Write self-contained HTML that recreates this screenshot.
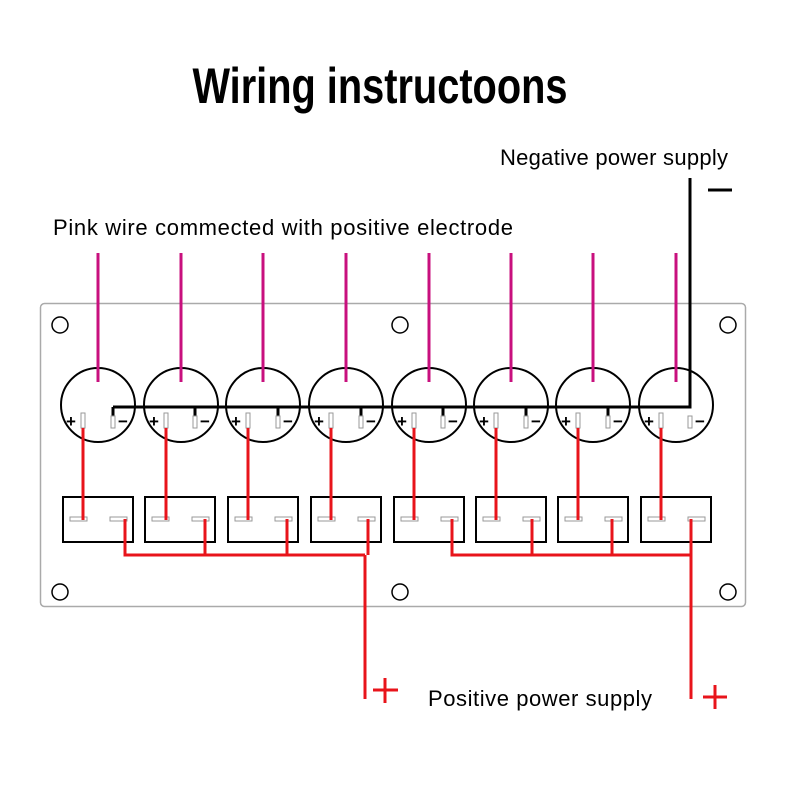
<!DOCTYPE html><html><head><style>body{margin:0;background:#fff}</style></head><body>
<svg width="800" height="800" viewBox="0 0 800 800" xmlns="http://www.w3.org/2000/svg" font-family="Liberation Sans Narrow, Liberation Sans, sans-serif">
<rect width="800" height="800" fill="#fff"/>
<text x="380" y="103" font-size="50" font-weight="bold" text-anchor="middle" textLength="375" lengthAdjust="spacingAndGlyphs">Wiring instructoons</text>
<text x="500" y="165" font-size="22" textLength="228" lengthAdjust="spacing">Negative power supply</text>
<text x="53" y="235" font-size="22" textLength="460" lengthAdjust="spacing">Pink wire commected with positive electrode</text>
<text x="428" y="706" font-size="22" textLength="224" lengthAdjust="spacing">Positive power supply</text>
<rect x="40.5" y="303.5" width="705" height="303" rx="4" fill="none" stroke="#aaa" stroke-width="1.5"/>
<g fill="none" stroke="#000" stroke-width="1.5">
<circle cx="60" cy="325" r="8"/><circle cx="400" cy="325" r="8"/><circle cx="728" cy="325" r="8"/>
<circle cx="60" cy="592" r="8"/><circle cx="400" cy="592" r="8"/><circle cx="728" cy="592" r="8"/>
</g>
<g fill="none" stroke-width="2">
<circle cx="98" cy="405" r="37" stroke="#000"/><circle cx="181" cy="405" r="37" stroke="#000"/><circle cx="263" cy="405" r="37" stroke="#000"/><circle cx="346" cy="405" r="37" stroke="#000"/><circle cx="429" cy="405" r="37" stroke="#000"/><circle cx="511" cy="405" r="37" stroke="#000"/><circle cx="593" cy="405" r="37" stroke="#000"/><circle cx="676" cy="405" r="37" stroke="#000"/>
<rect x="63" y="497" width="70" height="45" stroke="#000"/><rect x="145" y="497" width="70" height="45" stroke="#000"/><rect x="228" y="497" width="70" height="45" stroke="#000"/><rect x="311" y="497" width="70" height="45" stroke="#000"/><rect x="394" y="497" width="70" height="45" stroke="#000"/><rect x="476" y="497" width="70" height="45" stroke="#000"/><rect x="558" y="497" width="70" height="45" stroke="#000"/><rect x="641" y="497" width="70" height="45" stroke="#000"/>
</g>
<g stroke="#c8107e" stroke-width="3">
<line x1="98" y1="253" x2="98" y2="382"/><line x1="181" y1="253" x2="181" y2="382"/><line x1="263" y1="253" x2="263" y2="382"/><line x1="346" y1="253" x2="346" y2="382"/><line x1="429" y1="253" x2="429" y2="382"/><line x1="511" y1="253" x2="511" y2="382"/><line x1="593" y1="253" x2="593" y2="382"/><line x1="676" y1="253" x2="676" y2="382"/>
</g>
<g stroke="#000" stroke-width="3" fill="none">
<polyline points="690,178 690,407 113,407"/>
<line x1="113" y1="407" x2="113" y2="416"/><line x1="195" y1="407" x2="195" y2="416"/><line x1="278" y1="407" x2="278" y2="416"/><line x1="361" y1="407" x2="361" y2="416"/><line x1="443" y1="407" x2="443" y2="416"/><line x1="526" y1="407" x2="526" y2="416"/><line x1="608" y1="407" x2="608" y2="416"/>
<line x1="708" y1="190" x2="732" y2="190"/>
</g>
<g font-family="Liberation Sans, sans-serif" font-size="17" font-weight="bold">
<text x="66" y="427">+</text><text x="149" y="427">+</text><text x="231" y="427">+</text><text x="314" y="427">+</text><text x="397" y="427">+</text><text x="479" y="427">+</text><text x="561" y="427">+</text><text x="644" y="427">+</text>
<text x="118" y="427">−</text><text x="200" y="427">−</text><text x="283" y="427">−</text><text x="366" y="427">−</text><text x="448" y="427">−</text><text x="531" y="427">−</text><text x="613" y="427">−</text><text x="695" y="427">−</text>
</g>
<g fill="#fff" stroke="#999" stroke-width="1">
<rect x="81" y="413" width="4" height="15"/><rect x="164" y="413" width="4" height="15"/><rect x="246" y="413" width="4" height="15"/><rect x="329" y="413" width="4" height="15"/><rect x="412" y="413" width="4" height="15"/><rect x="494" y="413" width="4" height="15"/><rect x="576" y="413" width="4" height="15"/><rect x="659" y="413" width="4" height="15"/>
<rect x="111" y="416" width="4" height="12"/><rect x="193" y="416" width="4" height="12"/><rect x="276" y="416" width="4" height="12"/><rect x="359" y="416" width="4" height="12"/><rect x="441" y="416" width="4" height="12"/><rect x="524" y="416" width="4" height="12"/><rect x="606" y="416" width="4" height="12"/><rect x="688" y="416" width="4" height="12"/>
<rect x="70" y="517" width="17" height="4"/><rect x="110" y="517" width="17" height="4"/>
<rect x="152" y="517" width="17" height="4"/><rect x="192" y="517" width="17" height="4"/>
<rect x="235" y="517" width="17" height="4"/><rect x="275" y="517" width="17" height="4"/>
<rect x="318" y="517" width="17" height="4"/><rect x="358" y="517" width="17" height="4"/>
<rect x="401" y="517" width="17" height="4"/><rect x="441" y="517" width="17" height="4"/>
<rect x="483" y="517" width="17" height="4"/><rect x="523" y="517" width="17" height="4"/>
<rect x="565" y="517" width="17" height="4"/><rect x="605" y="517" width="17" height="4"/>
<rect x="648" y="517" width="17" height="4"/><rect x="688" y="517" width="17" height="4"/>
</g>
<g stroke="#e8141b" stroke-width="3" fill="none">
<line x1="83" y1="428" x2="83" y2="520"/><line x1="166" y1="428" x2="166" y2="520"/><line x1="248" y1="428" x2="248" y2="520"/><line x1="331" y1="428" x2="331" y2="520"/><line x1="414" y1="428" x2="414" y2="520"/><line x1="496" y1="428" x2="496" y2="520"/><line x1="578" y1="428" x2="578" y2="520"/><line x1="661" y1="428" x2="661" y2="520"/>
<polyline points="125,519 125,555 365,555"/><line x1="205" y1="519" x2="205" y2="555"/><line x1="287" y1="519" x2="287" y2="555"/><line x1="368" y1="519" x2="368" y2="555"/>
<line x1="365" y1="555" x2="365" y2="699"/>
<polyline points="452,519 452,555 691,555"/><line x1="532" y1="519" x2="532" y2="555"/><line x1="612" y1="519" x2="612" y2="555"/><line x1="691" y1="519" x2="691" y2="699"/>
<line x1="373" y1="690" x2="398" y2="690"/><line x1="385" y1="678" x2="385" y2="703"/>
<line x1="703" y1="697" x2="727" y2="697"/><line x1="715" y1="685" x2="715" y2="709"/>
</g>
</svg>
</body></html>
